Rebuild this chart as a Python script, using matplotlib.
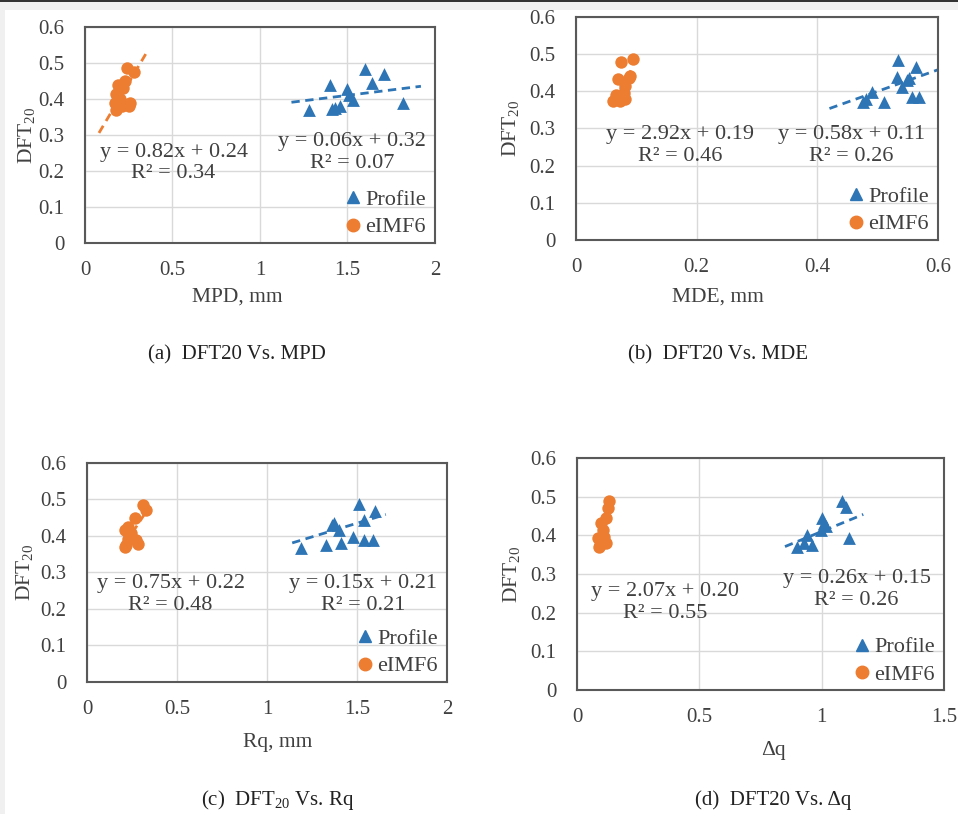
import matplotlib
matplotlib.use("Agg")
from matplotlib import pyplot as plt
from matplotlib.patches import Rectangle
from matplotlib.lines import Line2D

plt.rcParams['font.family'] = ['Liberation Serif', 'DejaVu Serif']
plt.rcParams['mathtext.fontset'] = 'custom'
plt.rcParams['mathtext.rm'] = 'Liberation Serif'

# (a) MPD
mpd_profile = [1.60, 1.71, 1.40, 1.64, 1.50, 1.51, 1.53, 1.28, 1.41, 1.46, 1.82, 1.43]
dft_mpd_profile = [0.484, 0.468, 0.438, 0.444, 0.429, 0.410, 0.396, 0.368, 0.373, 0.380, 0.390, 0.375]
mpd_eimf = [0.24, 0.28, 0.23, 0.19, 0.18, 0.20, 0.17, 0.18, 0.25, 0.26, 0.21, 0.22]
dft_mpd_eimf = [0.485, 0.475, 0.450, 0.440, 0.415, 0.400, 0.390, 0.370, 0.380, 0.390, 0.380, 0.430]

# (b) MDE
mde_profile = [0.534, 0.564, 0.532, 0.551, 0.540, 0.490, 0.476, 0.510, 0.557, 0.569, 0.480, 0.548]
dft_mde_profile = [0.484, 0.466, 0.439, 0.435, 0.412, 0.399, 0.372, 0.372, 0.385, 0.385, 0.380, 0.430]
mde_eimf = [0.094, 0.075, 0.070, 0.090, 0.081, 0.079, 0.066, 0.062, 0.081, 0.073, 0.087]
dft_mde_eimf = [0.486, 0.478, 0.432, 0.441, 0.414, 0.396, 0.391, 0.373, 0.380, 0.373, 0.437]

# (c) Rq
rq_profile = [1.51, 1.60, 1.54, 1.37, 1.40, 1.48, 1.41, 1.33, 1.54, 1.59, 1.19, 1.36]
dft_rq_profile = [0.488, 0.469, 0.444, 0.435, 0.416, 0.398, 0.380, 0.375, 0.389, 0.389, 0.366, 0.430]
rq_eimf = [0.31, 0.33, 0.265, 0.228, 0.21, 0.247, 0.275, 0.284, 0.219, 0.21, 0.228]
dft_rq_eimf = [0.484, 0.470, 0.448, 0.425, 0.416, 0.407, 0.388, 0.379, 0.375, 0.370, 0.393]

# (d) delta q
dq_profile = [1.085, 1.098, 1.003, 1.010, 0.996, 0.942, 1.112, 0.901, 0.962, 0.928, 1.017]
dft_dq_profile = [0.488, 0.473, 0.445, 0.432, 0.415, 0.402, 0.393, 0.371, 0.376, 0.380, 0.423]
dq_eimf = [0.132, 0.125, 0.118, 0.098, 0.105, 0.084, 0.118, 0.091, 0.112, 0.094]
dft_dq_eimf = [0.488, 0.471, 0.445, 0.432, 0.415, 0.393, 0.380, 0.371, 0.397, 0.375]

# trend lines: (slope, intercept, x start, x end)
trend_profile = [(0.06, 0.32, 1.18, 1.92), (0.58, 0.11, 0.42, 0.60),
                 (0.15, 0.21, 1.14, 1.66), (0.26, 0.15, 0.85, 1.17)]
trend_eimf = [(0.82, 0.24, 0.08, 0.36), (2.92, 0.19, 0.062, 0.094),
              (0.75, 0.22, 0.21, 0.33), (2.07, 0.20, 0.085, 0.13)]
r2_profile = [0.07, 0.26, 0.21, 0.26]
r2_eimf = [0.34, 0.46, 0.48, 0.55]

xlabels = ['MPD, mm', 'MDE, mm', 'Rq, mm', 'Δq']
xlims = [(0, 2), (0, 0.6), (0, 2), (0, 1.5)]
xticks = [[0, 0.5, 1, 1.5, 2], [0, 0.2, 0.4, 0.6], [0, 0.5, 1, 1.5, 2], [0, 0.5, 1, 1.5]]
xticklabels = [['0', '0.5', '1', '1.5', '2'], ['0', '0.2', '0.4', '0.6'],
               ['0', '0.5', '1', '1.5', '2'], ['0', '0.5', '1', '1.5']]
captions = ['(a)  DFT20 Vs. MPD', '(b)  DFT20 Vs. MDE',
            '(c)  DFT$_{\\mathregular{20}}$ Vs. Rq', '(d)  DFT20 Vs. Δq']

profile_x = [mpd_profile, mde_profile, rq_profile, dq_profile]
profile_y = [dft_mpd_profile, dft_mde_profile, dft_rq_profile, dft_dq_profile]
eimf_x = [mpd_eimf, mde_eimf, rq_eimf, dq_eimf]
eimf_y = [dft_mpd_eimf, dft_mde_eimf, dft_rq_eimf, dft_dq_eimf]

blue = '#2E75B6'
orange = '#ED7D31'
txt = '#404040'

fig = plt.figure(figsize=(9.58, 8.14), dpi=100, facecolor='white')

# page border strips
fig.patches.append(Rectangle((0, 0.988), 1, 0.012, transform=fig.transFigure,
                             facecolor='#f0f0f0', edgecolor='none', zorder=0))
fig.patches.append(Rectangle((0, 0.997), 1, 0.003, transform=fig.transFigure,
                             facecolor='#333333', edgecolor='none', zorder=0))
fig.patches.append(Rectangle((0, 0), 0.005, 0.988, transform=fig.transFigure,
                             facecolor='#f0f0f0', edgecolor='none', zorder=0))

positions = [(0.0887, 0.7015, 0.3653, 0.2654), (0.6013, 0.7052, 0.3779, 0.2740),
             (0.0908, 0.1622, 0.3758, 0.2690), (0.6023, 0.1523, 0.3831, 0.2850)]
# equation text spots in axes fraction: eIMF6, Profile
eq_pos = [((0.253, 0.37), (0.763, 0.42)), ((0.287, 0.424), (0.760, 0.424)),
          ((0.232, 0.40), (0.768, 0.40)), ((0.240, 0.377), (0.762, 0.433))]
xlabel_y = [297, 297, 742, 750]
ylabel_x = [27, 511, 25, 512]
caption_x = [237, 718, 278, 773]
caption_y = [355, 355, 800, 800]

for i in range(4):
    ax = fig.add_axes(positions[i])
    ax.set_xlim(*xlims[i])
    ax.set_ylim(0, 0.6)
    ax.set_xticks(xticks[i])
    ax.set_xticklabels(xticklabels[i])
    ax.set_yticks([0, 0.1, 0.2, 0.3, 0.4, 0.5, 0.6])
    ax.set_yticklabels(['0', '0.1', '0.2', '0.3', '0.4', '0.5', '0.6'])
    ax.tick_params(length=0, labelsize=15, colors=txt)
    ax.tick_params(axis='y', pad=15)
    ax.tick_params(axis='x', pad=13)
    ax.grid(color='#d9d9d9', linewidth=1)
    ax.set_axisbelow(True)
    for s in ax.spines.values():
        s.set_color('#595959')
        s.set_linewidth(1.5)

    # trend lines
    m, b, x0, x1 = trend_eimf[i]
    ax.plot([x0, x1], [m * x0 + b, m * x1 + b], color=orange, linestyle=(0, (3, 2)),
            linewidth=2, zorder=2)
    m, b, x0, x1 = trend_profile[i]
    ax.plot([x0, x1], [m * x0 + b, m * x1 + b], color=blue, linestyle=(0, (3, 2)),
            linewidth=2, zorder=2)

    ax.scatter(profile_x[i], profile_y[i], marker='^', s=85, color=blue, zorder=3,
               linewidths=0)
    ax.scatter(eimf_x[i], eimf_y[i], marker='o', s=80, color=orange, zorder=3,
               linewidths=0)

    # equations
    m, b = trend_eimf[i][:2]
    (ex, ey), (px, py) = eq_pos[i]
    ax.text(ex, ey, 'y = {:.2f}x + {:.2f}\nR² = {:.2f}'.format(m, b, r2_eimf[i]),
            transform=ax.transAxes, ha='center', va='center', fontsize=16,
            color=txt, linespacing=1.2, zorder=4)
    m, b = trend_profile[i][:2]
    ax.text(px, py, 'y = {:.2f}x + {:.2f}\nR² = {:.2f}'.format(m, b, r2_profile[i]),
            transform=ax.transAxes, ha='center', va='center', fontsize=16,
            color=txt, linespacing=1.2, zorder=4)

    handles = [Line2D([], [], marker='^', color=blue, linestyle='none', markersize=9),
               Line2D([], [], marker='o', color=orange, linestyle='none', markersize=9)]
    ax.legend(handles, ['Profile', 'eIMF6'], loc='lower right', frameon=False,
              fontsize=16, handletextpad=0.1, handlelength=0.9, labelspacing=0.3,
              borderaxespad=0, bbox_to_anchor=(1.0, -0.015), labelcolor=txt)

    fig.text(caption_x[i] / 958, 1 - xlabel_y[i] / 814, xlabels[i], ha='center',
             va='center', fontsize=15.5, color=txt)
    fig.text(ylabel_x[i] / 958, positions[i][1] + positions[i][3] * 0.5,
             'DFT$_{\\mathregular{20}}$', rotation=90, ha='center', va='center',
             fontsize=15.5, color=txt)

for i in range(4):
    fig.text(caption_x[i] / 958, 1 - caption_y[i] / 814, captions[i], ha='center',
             va='center', fontsize=15, color='#222222')

fig.savefig('out.png', dpi=100, facecolor=fig.get_facecolor())
